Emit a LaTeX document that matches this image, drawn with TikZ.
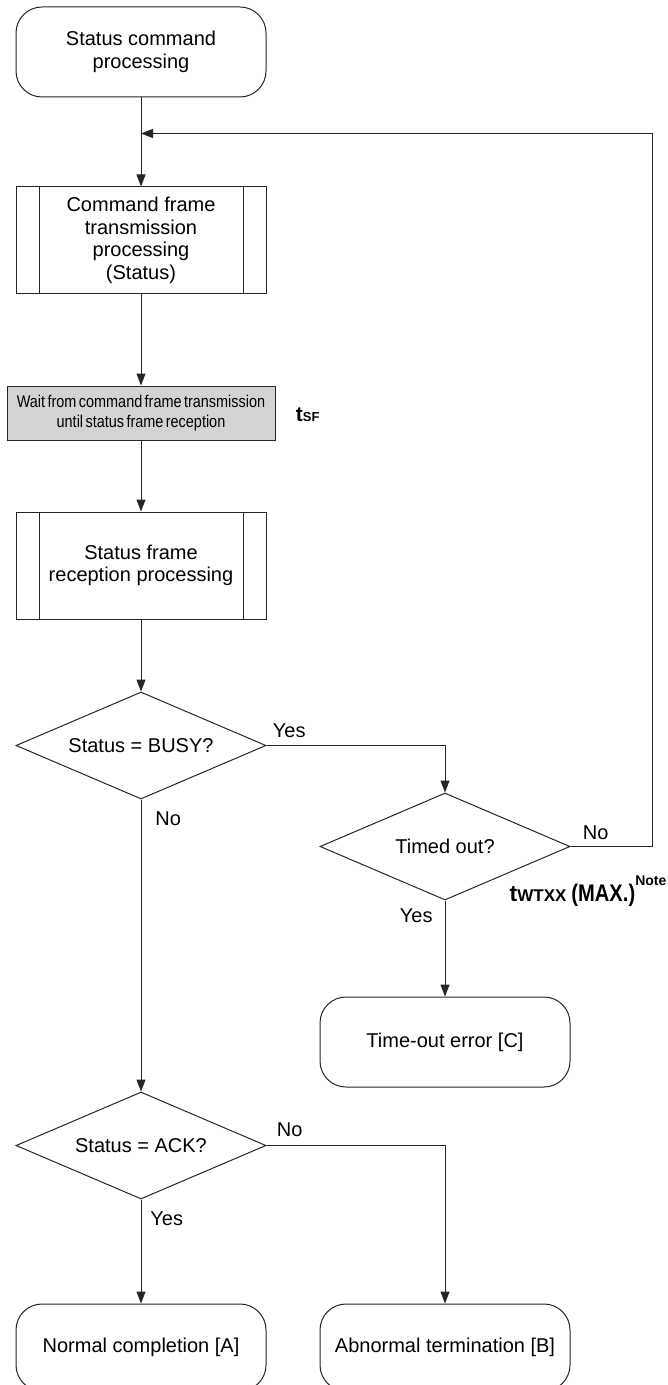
\documentclass[tikz,border=0pt]{standalone}
\usepackage{fontspec}
\setmainfont{Liberation Sans}
\newfontfamily\narrowfont[FakeStretch=0.85,WordSpace=0.6]{Liberation Sans}
\usepackage{graphicx}
\usepackage{xcolor}
\definecolor{cLine}{HTML}{262626}
\definecolor{cWait}{HTML}{D3D3D3}
\usetikzlibrary{positioning,arrows.meta,shapes.geometric}
\tikzset{
  node-term/.style={draw=cLine,line width=0.5pt,rounded corners=13pt,
    minimum width=125pt,minimum height=45pt,align=center,
    font=\fontsize{10}{11.3}\selectfont},
  node-proc/.style={draw=cLine,line width=0.5pt,
    minimum width=125pt,minimum height=53.5pt,align=center,
    font=\fontsize{10}{11.3}\selectfont,
    path picture={\draw[cLine,line width=0.5pt]
      ([xshift=11.5pt]path picture bounding box.north west) --
      ([xshift=11.5pt]path picture bounding box.south west)
      ([xshift=-11.5pt]path picture bounding box.north east) --
      ([xshift=-11.5pt]path picture bounding box.south east);}},
  node-wait/.style={draw=cLine,line width=0.5pt,fill=cWait,
    minimum width=134pt,minimum height=27pt,align=center,
    font=\narrowfont\fontsize{8.5}{10}\selectfont},
  node-dec/.style={draw=cLine,line width=0.5pt,diamond,aspect=2.34,
    minimum width=125pt,minimum height=53.5pt,inner sep=0pt,
    font=\fontsize{10}{11.3}\selectfont},
  node-lbl/.style={inner sep=0pt,font=\fontsize{10}{11}\selectfont},
  node-time/.style={inner sep=0pt,font=\bfseries\fontsize{10.5}{12}\selectfont},
  arrow/.style={-{Triangle[length=6pt,width=4.5pt]},draw=cLine,line width=0.5pt},
}

\begin{document}
\begin{tikzpicture}[x=0.5pt,y=-0.5pt]
  \useasboundingbox (0,0) rectangle (668,1385);
  % main column
  \node[node-term] (start) at (141,52) {Status command\\processing};
  \coordinate[below=18pt of start] (merge);
  \node[node-proc,below=44.5pt of start] (cmdtx)
    {Command frame\\transmission\\processing\\(Status)};
  \node[node-wait,below=45.5pt of cmdtx] (wait)
    {Wait from command frame transmission\\until status frame reception};
  \node[node-proc,below=35.5pt of wait] (stsrx)
    {Status frame\\reception processing};
  \node[node-dec,below=36pt of stsrx] (busy) {Status = BUSY?};
  \node[node-dec,below=146pt of busy] (ack) {Status = ACK?};
  \node[node-term,minimum height=43.5pt,below=52pt of ack] (norm)
    {Normal completion [A]};
  \node[node-term,minimum height=43.5pt,right=26.5pt of norm] (abn)
    {Abnormal termination [B]};
  % retry branch
  \node[node-dec,right=26.5pt of busy,yshift=-50.5pt] (tout) {Timed out?};
  \node[node-term,below=48pt of tout] (terr) {Time-out error [C]};
  % timing notes
  \node[node-time,anchor=base west] (tsf) at ([xshift=10pt,yshift=-4pt]wait.east)
    {t{\fontsize{6.5}{7}\selectfont SF}};
  \node[node-time,anchor=base west] (twtxx) at ([xshift=0.75pt,yshift=-14pt]tout.south east)
    {\fontsize{11.5}{12}\selectfont t{\fontsize{8.5}{9}\selectfont WTXX}\hspace{2.5pt}%
     \scalebox{0.84}[1]{\fontsize{12}{12}\selectfont (MAX.)}%
     \raisebox{8pt}{\fontsize{7}{8}\selectfont Note}};

  \draw[arrow] (start) -- (cmdtx);
  \draw[arrow] (cmdtx) -- (wait);
  \draw[arrow] (wait) -- (stsrx);
  \draw[arrow] (stsrx) -- (busy);
  \draw[arrow] (busy) -- (ack);
  \draw[arrow] (busy.east) -| (tout.north);
  \draw[arrow] (tout.east) -- ++(41pt,0) |- (merge);
  \draw[arrow] (tout) -- (terr);
  \draw[arrow] (ack) -- (norm);
  \draw[arrow] (ack.east) -| (abn.north);

  % branch labels
  \node[node-lbl,anchor=south west] (busy-yes) at ([xshift=3pt,yshift=3.5pt]busy.east) {Yes};
  \node[node-lbl,anchor=north west] (busy-no) at ([xshift=7pt,yshift=-6pt]busy.south) {No};
  \node[node-lbl,anchor=south west] (tout-no) at ([xshift=6pt,yshift=3pt]tout.east) {No};
  \node[node-lbl,anchor=north east] (tout-yes) at ([xshift=-6pt,yshift=-4pt]tout.south) {Yes};
  \node[node-lbl,anchor=south west] (ack-no) at ([xshift=5pt,yshift=4pt]ack.east) {No};
  \node[node-lbl,anchor=north west] (ack-yes) at ([xshift=4.5pt,yshift=-6pt]ack.south) {Yes};
\end{tikzpicture}
\end{document}
